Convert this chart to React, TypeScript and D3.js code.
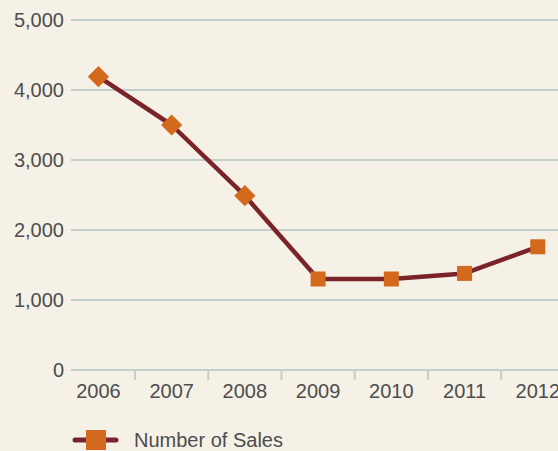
import React from "react";
import * as d3 from "d3";

const years = ["2006", "2007", "2008", "2009", "2010", "2011", "2012"];
const sales = [4190, 3500, 2490, 1300, 1300, 1380, 1760];
const yTicks = [0, 1000, 2000, 3000, 4000, 5000];
const seriesName = "Number of Sales";

const W = 558;
const H = 451;

export default function App() {
  const x = d3.scaleBand<string>().domain(years).range([61.8, 574.4]);
  const y = d3.scaleLinear().domain([0, 5000]).range([370, 20]);
  const fmt = d3.format(",");
  const cx = (d: string) => (x(d) as number) + x.bandwidth() / 2;
  const line = d3
    .line<number>()
    .x((_, i) => cx(years[i]))
    .y((v) => y(v));
  const font = "'Liberation Sans', Arial, Helvetica, sans-serif";
  const textColor = "#4d4d4d";
  const gridColor = "#c3cfca";

  return (
    <svg
      width={W}
      height={H}
      style={{ position: "absolute", left: 0, top: 0, background: "#f5f1e7" }}
    >
      <rect x={0} y={0} width={W} height={H} fill="#f5f1e7" />
      {yTicks.map((t) => (
        <g key={t}>
          <line x1={71} x2={W} y1={y(t)} y2={y(t)} stroke={gridColor} strokeWidth={2} />
          <text
            x={64}
            y={y(t)}
            dy="0.35em"
            textAnchor="end"
            fontFamily={font}
            fontSize={20}
            fill={textColor}
          >
            {fmt(t)}
          </text>
        </g>
      ))}
      {years.slice(1).map((yr) => (
        <line
          key={yr}
          x1={x(yr) as number}
          x2={x(yr) as number}
          y1={370}
          y2={380}
          stroke={gridColor}
          strokeWidth={2}
        />
      ))}
      {years.map((yr) => (
        <text
          key={yr}
          x={cx(yr)}
          y={398}
          textAnchor="middle"
          fontFamily={font}
          fontSize={20}
          fill={textColor}
        >
          {yr}
        </text>
      ))}
      <path d={line(sales) || ""} fill="none" stroke="#7a2328" strokeWidth={4.5} strokeLinejoin="round" />
      {sales.map((v, i) => {
        const next = sales[i + 1];
        const rot = next !== undefined && next < v ? 45 : 0;
        const px = cx(years[i]);
        const py = y(v);
        return (
          <rect
            key={i}
            x={-7.5}
            y={-7.5}
            width={15}
            height={15}
            fill="#d2691c"
            transform={`translate(${px},${py}) rotate(${rot})`}
          />
        );
      })}
      <g>
        <line x1={75} x2={116} y1={440} y2={440} stroke="#7a2328" strokeWidth={5} strokeLinecap="round" />
        <rect x={86} y={430} width={20} height={20} fill="#d2691c" />
        <text x={134} y={447} fontFamily={font} fontSize={20} fill={textColor}>
          {seriesName}
        </text>
      </g>
    </svg>
  );
}
